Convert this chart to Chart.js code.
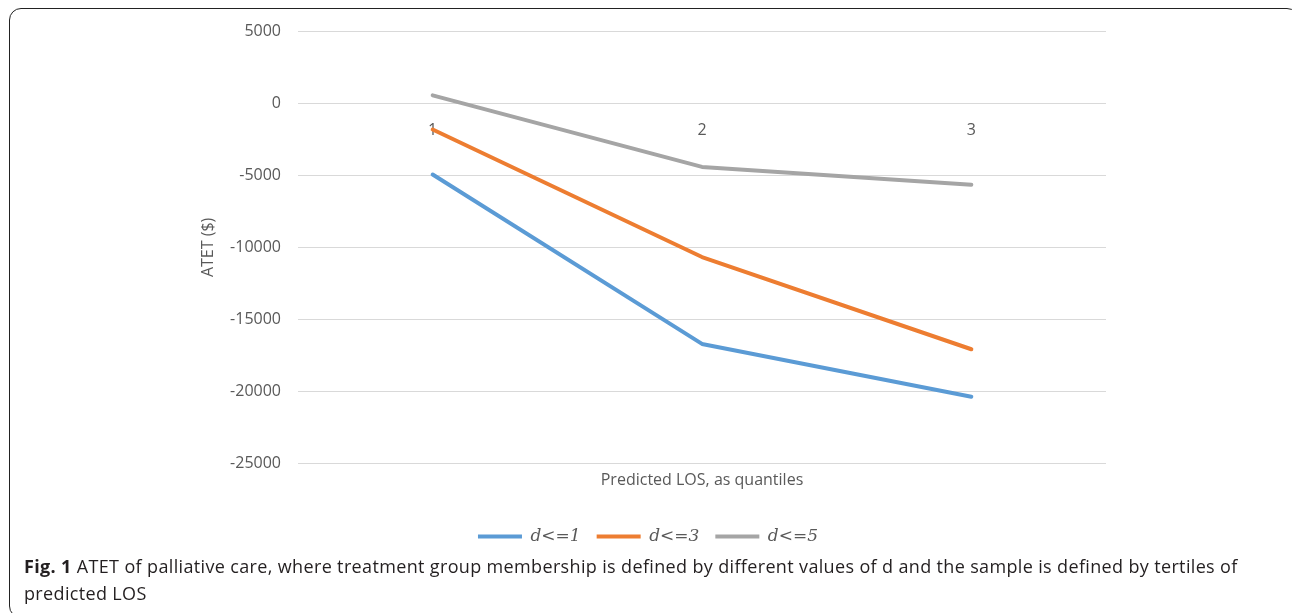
<!DOCTYPE html>
<html>
<head>
<meta charset="utf-8">
<script src="https://cdn.jsdelivr.net/npm/chart.js@4.4.1/dist/chart.umd.min.js"></script>
<style>
  html, body { margin: 0; padding: 0; background: #fff; }
  body { width: 1292px; height: 613px; position: relative; overflow: hidden; }
  #frame {
    position: absolute; left: 9px; top: 8px; width: 1290px; height: 610px;
    border: 1.5px solid #222; border-radius: 12px; box-sizing: border-box;
  }
  #wrap { position: absolute; left: 0; top: 0; width: 1292px; height: 556px; }
  #caption {
    position: absolute; left: 24px; top: 553px; width: 1262px;
    font-family: "Open Sans", sans-serif; font-size: 18px; line-height: 27px;
    letter-spacing: 0.35px; color: #231f20; white-space: nowrap;
  }
  #caption b { font-weight: 700; }
</style>
</head>
<body>
<div id="frame"></div>
<div id="wrap"><canvas id="chartAtet"></canvas></div>
<div id="caption"><b>Fig. 1</b> ATET of palliative care, where treatment group membership is defined by different values of d and the sample is defined by tertiles of<br>predicted LOS</div>
<script>
// ===============================
//  DỮ LIỆU
// ===============================
const quantiles = ["1", "2", "3"];
const atetD1 = [-4950, -16690, -20350];
const atetD3 = [-1830, -10670, -17060];
const atetD5 = [540, -4420, -5650];

const TEXT_COLOR = "#595959";
const GRID_COLOR = "#d9d9d9";

function makeSeries(label, data, color) {
  return {
    label,
    data,
    borderColor: color,
    backgroundColor: color,
    borderWidth: 4,
    borderCapStyle: "round",
    borderJoinStyle: "round",
    pointRadius: 0,
    pointHoverRadius: 0,
    pointStyle: "line",
    tension: 0
  };
}

// ===============================
//  TẠO BIỂU ĐỒ
// ===============================
const ctx = document.getElementById("chartAtet");

new Chart(ctx, {
  type: "line",
  data: {
    labels: quantiles,
    datasets: [
      makeSeries("d<=1", atetD1, "#5b9bd5"),
      makeSeries("d<=3", atetD3, "#ed7d31"),
      makeSeries("d<=5", atetD5, "#a5a5a5")
    ]
  },
  options: {
    responsive: true,
    maintainAspectRatio: false,
    animation: false,
    layout: { padding: { left: 190, right: 186, top: 31, bottom: 1 } },
    plugins: {
      tooltip: { enabled: false },
      legend: {
        position: "bottom",
        labels: {
          usePointStyle: true,
          pointStyleWidth: 44,
          padding: 16,
          color: TEXT_COLOR,
          font: { family: "'DejaVu Serif', serif", style: "italic", size: 17 }
        }
      }
    },
    scales: {
      x: {
        type: "category",
        offset: true,
        grid: { display: false, drawTicks: false },
        border: { display: false },
        ticks: { display: false },
        title: {
          display: true,
          text: "Predicted LOS, as quantiles",
          color: TEXT_COLOR,
          font: { family: "'Open Sans', sans-serif", size: 16 },
          padding: { top: 7, bottom: 22 }
        }
      },
      xZero: {
        type: "category",
        position: { y: 0 },
        offset: true,
        grid: { display: false, drawTicks: false },
        border: { display: false },
        ticks: {
          color: TEXT_COLOR,
          padding: 18,
          font: { family: "'Open Sans', sans-serif", size: 16 }
        }
      },
      y: {
        min: -25000,
        max: 5000,
        afterFit: scale => { scale.width = 108; },
        grid: { color: GRID_COLOR, lineWidth: 1, drawTicks: false },
        border: { display: false },
        ticks: {
          stepSize: 5000,
          padding: 17,
          color: TEXT_COLOR,
          font: { family: "'Open Sans', sans-serif", size: 16 },
          callback: v => String(v)
        },
        title: {
          display: true,
          text: "ATET ($)",
          color: TEXT_COLOR,
          font: { family: "'Open Sans', sans-serif", size: 16 },
          padding: { top: 9, bottom: 0 }
        }
      }
    }
  }
});
</script>
</body>
</html>
